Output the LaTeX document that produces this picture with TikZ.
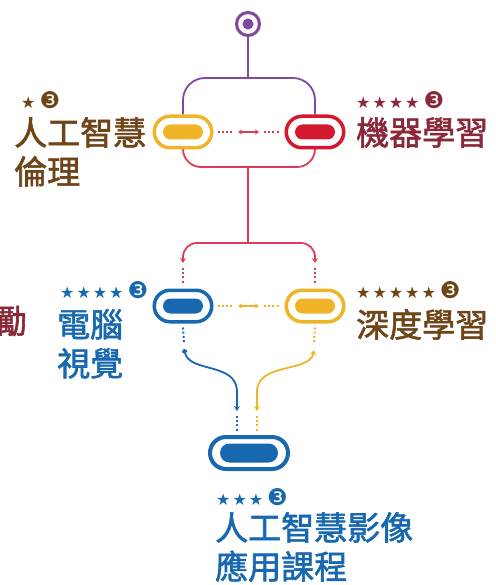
\documentclass[tikz,border=0pt]{standalone}
\usepackage{fontspec}
\setmainfont{Noto Sans CJK TC}
\newfontfamily\cjk{Noto Sans CJK TC}[FakeBold=1.8]
\newfontfamily\symf{DejaVu Sans}
\usetikzlibrary{arrows.meta,shapes.misc,backgrounds}
\definecolor{cpurple}{RGB}{128,72,160}
\definecolor{cred}{RGB}{212,24,48}
\definecolor{clred}{RGB}{222,60,85}
\definecolor{cyel}{RGB}{240,180,40}
\definecolor{cblue}{RGB}{24,104,176}
\definecolor{cbrown}{RGB}{110,68,25}
\definecolor{cmaroon}{RGB}{136,40,56}
\newcommand\stk{\kern2pt}
\newcommand\cthree{\kern4pt{\fontsize{23}{23}\selectfont ❸}}
\tikzset{
  outerpill/.style={rounded rectangle, draw=#1, line width=3.5pt, minimum width=57.5pt, minimum height=31.5pt, inner sep=0pt, fill=white},
  innerpill/.style={rounded rectangle, fill=#1, minimum width=40pt, minimum height=15pt, inner sep=0pt},
  dotline/.style={draw=#1, line width=2pt, dash pattern=on 2pt off 2.2pt},
  conn/.style={draw=#1, line width=1.8pt},
  midarrow/.style={draw=#1, line width=1.6pt, {Stealth[length=4pt,width=5pt]}-{Stealth[length=4pt,width=5pt]}},
  lbl/.style={anchor=north west, inner sep=0pt, align=left, font=\cjk\fontsize{33}{39}\selectfont, text=#1},
  rating/.style={anchor=west, inner sep=0pt, font=\symf\fontsize{16}{16}\selectfont, text=#1},
}
\begin{document}
\begin{tikzpicture}[x=1pt,y=-1pt]
\useasboundingbox (0,0) rectangle (495,585);
% top circle
\node[circle, draw=cpurple, line width=3pt, minimum size=23pt, inner sep=0pt] (top) at (248,24) {};
\node[circle, fill=cpurple, minimum size=11pt, inner sep=0pt] (topdot) at (top) {};
% pills
\node[outerpill=cyel] (p1) at (183,132) {};
\node[innerpill=cyel] (p1i) at (p1) {};
\node[outerpill=cred] (p2) at (315,132) {};
\node[innerpill=cred] (p2i) at (p2) {};
\node[outerpill=cblue] (p3) at (183,306) {};
\node[innerpill=cblue] (p3i) at (p3) {};
\node[outerpill=cyel] (p4) at (315,306) {};
\node[innerpill=cyel] (p4i) at (p4) {};
\node[outerpill=cblue, line width=4pt, minimum width=78pt, minimum height=32pt] (p5) at (249,453) {};
\node[innerpill=cblue, minimum width=58pt, minimum height=19pt] (p5i) at (p5) {};
% coordinates
\coordinate (pj) at (248,78);
\coordinate (rj) at (248,167);
\coordinate (rb) at (248,243);
\coordinate (ra3) at (183,263);
\coordinate (ra4) at (315,263);
\coordinate (m1a) at (238,132);
\coordinate (m1b) at (259,132);
\coordinate (m2a) at (238,306);
\coordinate (m2b) at (259,306);
\coordinate (bd) at (184,349);
\coordinate (yd) at (314,350);
\coordinate (ba) at (237,411);
\coordinate (ya) at (257,411);
\begin{scope}[on background layer]
\draw[conn=cpurple] (top.south) -- (pj);
\draw[conn=cpurple, rounded corners=22pt] (p1.north) |- (pj) -| (p2.north);
\draw[conn=clred, rounded corners=18pt] (p1.south) |- (rj) -| (p2.south);
\end{scope}
\draw[conn=clred] (rj) -- (rb);
\draw[conn=clred, rounded corners=14pt, -{Stealth[length=5pt,width=6pt]}] (rb) -| (ra3);
\draw[conn=clred, rounded corners=14pt, -{Stealth[length=5pt,width=6pt]}] (rb) -| (ra4);
\draw[dotline=clred] ([yshift=-5pt]ra3) -- ([yshift=4pt]p3.north);
\draw[dotline=clred] ([yshift=-5pt]ra4) -- ([yshift=4pt]p4.north);
% horizontal links
\draw[dotline=clred] ([xshift=4pt]p1.east) -- ([xshift=-5pt]m1a);
\draw[midarrow=clred] (m1a) -- (m1b);
\draw[dotline=clred] ([xshift=5pt]m1b) -- ([xshift=-4pt]p2.west);
\draw[dotline=cyel] ([xshift=4pt]p3.east) -- ([xshift=-5pt]m2a);
\draw[midarrow=cyel] (m2a) -- (m2b);
\draw[dotline=cyel] ([xshift=5pt]m2b) -- ([xshift=-4pt]p4.west);
% lower links
\draw[dotline=cblue] ([yshift=-4pt]p3.south) -- ([yshift=6pt]bd);
\draw[conn=cblue, {Circle[length=5pt]}-{Stealth[length=5pt,width=6pt]}] (bd) .. controls (190,373) and (237,362) .. (237,392) -- (ba);
\draw[dotline=cblue] ([yshift=-5pt]ba) -- ([xshift=-12pt,yshift=4pt]p5.north);
\draw[dotline=cyel] ([yshift=-4pt]p4.south) -- ([yshift=6pt]yd);
\draw[conn=cyel, {Stealth[length=5pt,width=6pt]}-{Stealth[length=5pt,width=6pt]}] (yd) .. controls (310,373) and (257,362) .. (257,392) -- (ya);
\draw[dotline=cyel] ([yshift=-5pt]ya) -- ([xshift=8pt,yshift=4pt]p5.north);
% labels
\node[rating=cbrown] (r1) at (21,100) {★\cthree};
\node[lbl=cbrown] (t1) at (14,117) {人工智慧\\倫理};
\node[rating=cmaroon] (r2) at (356,100) {★\stk★\stk★\stk★\cthree};
\node[lbl=cmaroon] (t2) at (356,117) {機器學習};
\node[rating=cblue] (r3) at (60,290) {★\stk★\stk★\stk★\cthree};
\node[lbl=cblue] (t3) at (57,309) {電腦\\視覺};
\node[rating=cbrown] (r4) at (356,290) {★\stk★\stk★\stk★\stk★\cthree};
\node[lbl=cbrown] (t4) at (356,309) {深度學習};
\node[rating=cblue] (r5) at (216,497) {★\stk★\stk★\cthree};
\node[lbl=cblue] (t5) at (215,512) {人工智慧影像\\應用課程};
\node[anchor=east, inner sep=0pt, font=\cjk\fontsize{33}{39}\selectfont, text=cmaroon] (t6) at (27,321) {勵};
\end{tikzpicture}
\end{document}
